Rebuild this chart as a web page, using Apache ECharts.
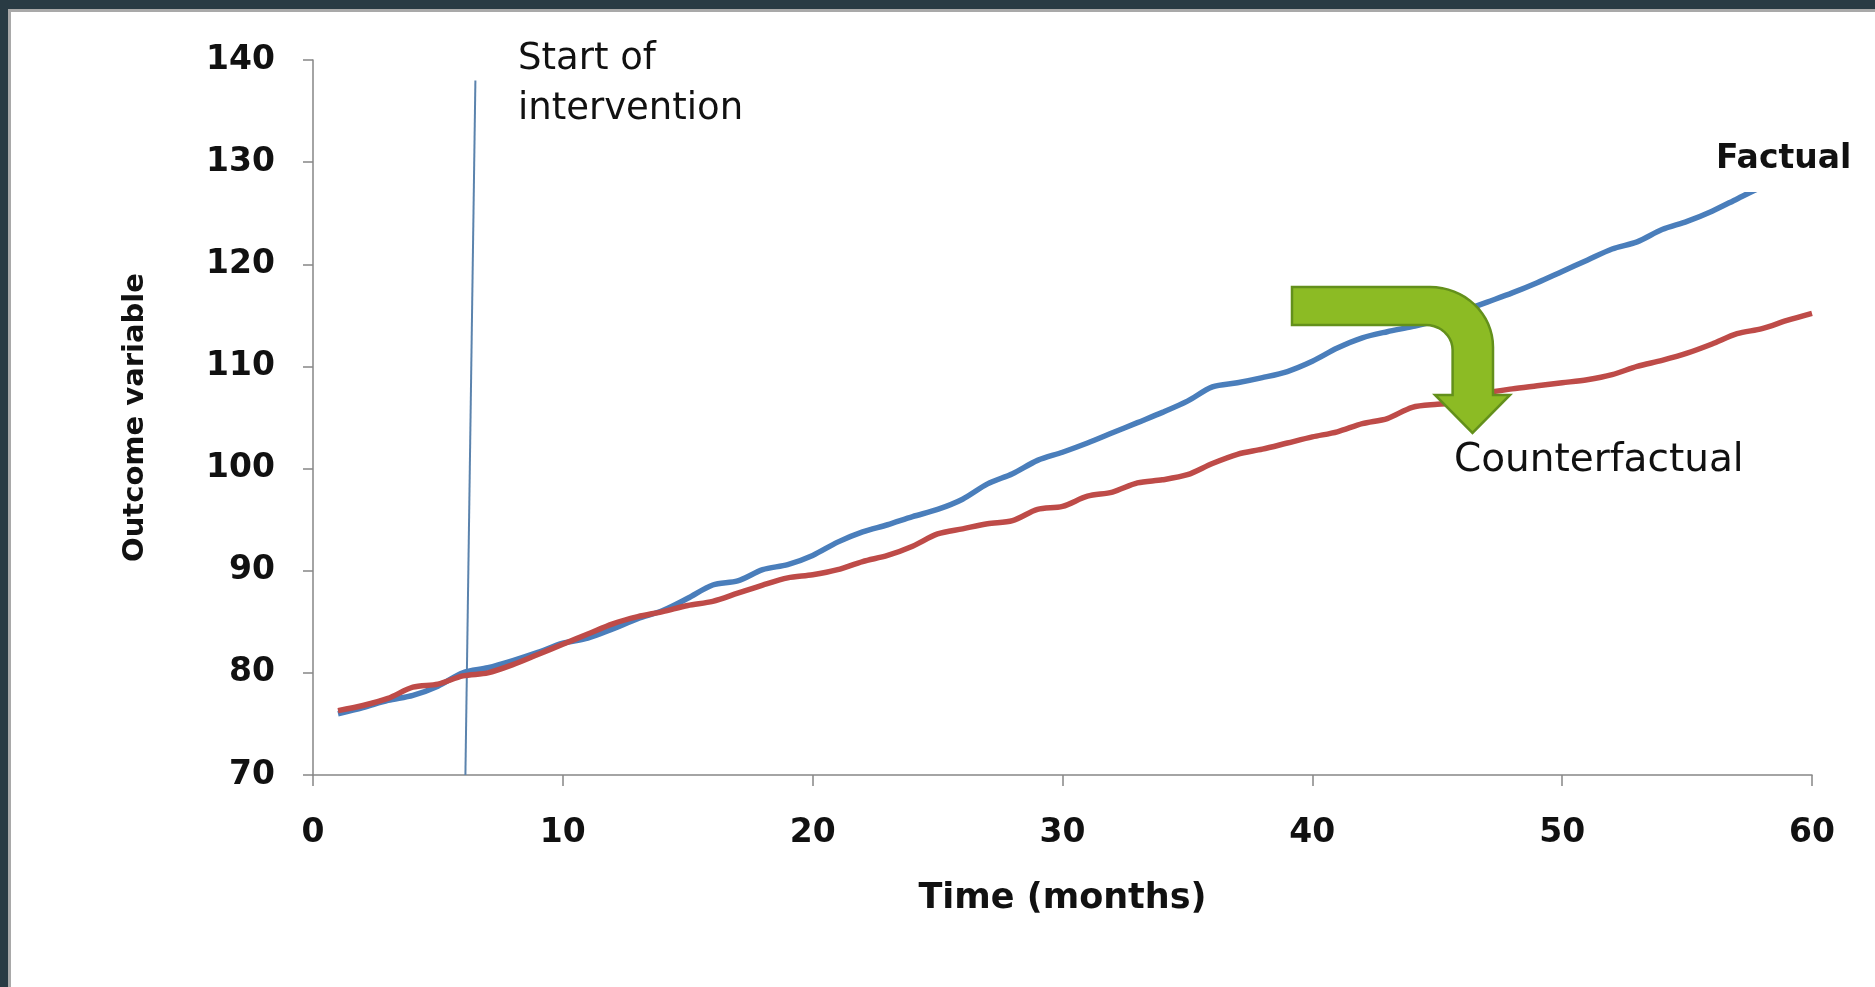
<!DOCTYPE html>
<html>
<head>
<meta charset="utf-8">
<title>Factual vs counterfactual</title>
<script src="https://cdn.jsdelivr.net/npm/echarts@6/dist/echarts.min.js"></script>
<style>
  html, body { margin: 0; padding: 0; background: #293b44; overflow: hidden; }
  #frame {
    position: absolute; left: 8px; top: 9px; right: 0; bottom: 0;
    background: #ffffff;
    border-left: 3px solid #a9a9a9;
    border-top: 3px solid #a9a9a9;
  }
  #chart { width: 1864px; height: 975px; }
</style>
</head>
<body>
<div id="frame"><div id="chart"></div></div>
<script>
// time axis (months)
const months = [
  1, 2, 3, 4, 5, 6, 7, 8, 9, 10, 11, 12, 13, 14, 15, 16, 17, 18, 19, 20,
  21, 22, 23, 24, 25, 26, 27, 28, 29, 30, 31, 32, 33, 34, 35, 36, 37, 38, 39, 40,
  41, 42, 43, 44, 45, 46, 47, 48, 49, 50, 51, 52, 53, 54, 55, 56, 57, 58, 59, 60
];

const factual = [
  76.0, 76.6, 77.3, 77.8, 78.7, 80.0, 80.5, 81.2, 82.0, 82.9,
  83.4, 84.3, 85.3, 86.1, 87.3, 88.6, 89.0, 90.1, 90.6, 91.5,
  92.8, 93.8, 94.5, 95.3, 96.0, 97.0, 98.5, 99.5, 100.8, 101.6,
  102.5, 103.5, 104.5, 105.5, 106.6, 108.0, 108.4, 108.9, 109.5, 110.5,
  111.8, 112.8, 113.4, 113.9, 114.5, 115.4, 116.3, 117.2, 118.2, 119.3,
  120.4, 121.5, 122.2, 123.4, 124.2, 125.2, 126.4, 127.6, 128.6, 129.6
];

const counterfactual = [
  76.3, 76.8, 77.5, 78.6, 78.9, 79.7, 80.0, 80.8, 81.8, 82.8,
  83.8, 84.8, 85.5, 86.0, 86.6, 87.0, 87.8, 88.6, 89.3, 89.6,
  90.1, 90.9, 91.5, 92.4, 93.6, 94.1, 94.6, 94.9, 96.0, 96.3,
  97.3, 97.7, 98.6, 98.9, 99.4, 100.5, 101.4, 101.9, 102.5, 103.1,
  103.6, 104.4, 104.9, 106.0, 106.3, 106.5, 107.4, 107.8, 108.1, 108.4,
  108.7, 109.2, 110.0, 110.6, 111.3, 112.2, 113.2, 113.7, 114.5, 115.2
];

// hand-drawn "start of intervention" marker (slightly slanted in the original)
const interventionX = [6.1, 6.5];
const interventionY = [70, 138];

const yTicks = { min: 70, max: 140, interval: 10 };
const xTicks = { min: 0, max: 60, interval: 10 };

const FONT = "DejaVu Sans";
const INK = "#111111";

const pairs = (xs, ys) => xs.map((x, i) => [x, ys[i]]);

// bent arrow outline, quarter-ellipse corners
const bentArrow = () => {
  const pts = [[1281, 275]];
  const arc = (cx, cy, rx, ry, a0, a1, n) => {
    for (let i = 0; i <= n; i++) {
      const a = a0 + (a1 - a0) * i / n;
      pts.push([cx + rx * Math.cos(a), cy + ry * Math.sin(a)]);
    }
  };
  arc(1419, 335, 63, 60, -Math.PI / 2, 0, 16);
  pts.push([1482, 383], [1499, 383], [1461.5, 421], [1424, 383], [1441.6, 383]);
  arc(1415, 338, 26.6, 25, 0, -Math.PI / 2, 10);
  pts.push([1281, 313]);
  return pts;
};

const chart = echarts.init(document.getElementById("chart"));

const option = {
  animation: false,
  backgroundColor: "#ffffff",
  grid: { left: 302, right: 63, top: 48, bottom: 212 },
  xAxis: {
    type: "value",
    min: xTicks.min,
    max: xTicks.max,
    interval: xTicks.interval,
    name: "Time (months)",
    nameLocation: "middle",
    nameGap: 106,
    nameTextStyle: { fontFamily: FONT, fontWeight: "bold", fontSize: 35, color: INK },
    axisLine: { show: true, lineStyle: { color: "#868686", width: 1.5 } },
    axisTick: { show: true, length: 11, lineStyle: { color: "#868686", width: 1.5 } },
    axisLabel: { margin: 42, fontFamily: FONT, fontWeight: "bold", fontSize: 33, color: INK },
    splitLine: { show: false },
  },
  yAxis: {
    type: "value",
    min: yTicks.min,
    max: yTicks.max,
    interval: yTicks.interval,
    name: "Outcome variable",
    nameLocation: "middle",
    nameGap: 163,
    nameTextStyle: { fontFamily: FONT, fontWeight: "bold", fontSize: 29, color: INK },
    axisLine: { show: true, lineStyle: { color: "#868686", width: 1.5 } },
    axisTick: { show: true, length: 10, lineStyle: { color: "#868686", width: 1.5 } },
    axisLabel: { margin: 38, fontFamily: FONT, fontWeight: "bold", fontSize: 33, color: INK },
    splitLine: { show: false },
  },
  series: [
    {
      name: "Start of intervention",
      type: "line",
      data: pairs(interventionX, interventionY),
      showSymbol: false,
      lineStyle: { color: "#5b83ad", width: 2 },
      z: 1,
    },
    {
      name: "Factual",
      type: "line",
      data: pairs(months, factual),
      showSymbol: false,
      smooth: 0.3,
      lineStyle: { color: "#4a7ebb", width: 5.5 },
      z: 3,
    },
    {
      name: "Counterfactual",
      type: "line",
      data: pairs(months, counterfactual),
      showSymbol: false,
      smooth: 0.3,
      lineStyle: { color: "#be4b48", width: 5.5 },
      z: 4,
    },
  ],
  graphic: [
    {
      type: "polygon",
      z: 100,
      shape: { points: bentArrow() },
      style: { fill: "#8cbb24", stroke: "#63901b", lineWidth: 2.5 },
    },
    {
      type: "rect",
      z: 100,
      shape: { x: 1689, y: 118, width: 175, height: 62 },
      style: { fill: "#ffffff" },
    },
    {
      type: "text",
      z: 101,
      x: 507,
      y: 22,
      style: {
        text: "Start of\nintervention",
        font: "37px '" + FONT + "'",
        lineHeight: 50,
        fill: INK,
        verticalAlign: "top",
      },
    },
    {
      type: "text",
      z: 101,
      x: 1705,
      y: 147,
      style: {
        text: "Factual",
        font: "bold 33px '" + FONT + "'",
        fill: INK,
        verticalAlign: "middle",
      },
    },
    {
      type: "text",
      z: 101,
      x: 1443,
      y: 449,
      style: {
        text: "Counterfactual",
        font: "39px '" + FONT + "'",
        fill: INK,
        verticalAlign: "middle",
      },
    },
  ],
};

chart.setOption(option);
</script>
</body>
</html>
